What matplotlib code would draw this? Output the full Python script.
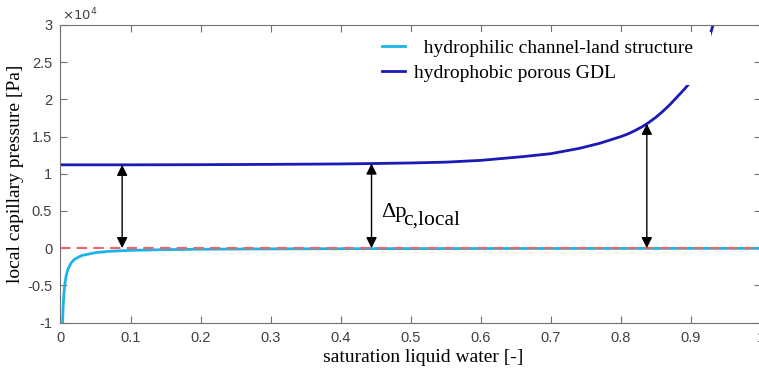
import numpy as np
import matplotlib
matplotlib.use("Agg")
import matplotlib.pyplot as plt
from matplotlib.patches import Rectangle

# saturation / pressure (Pa)
s_phil = [0.003, 0.0035, 0.004, 0.005, 0.006, 0.008, 0.01, 0.015, 0.02, 0.03,
          0.05, 0.07, 0.1, 0.15, 0.2, 0.3, 0.5, 0.7, 1.0]
p_phil = [-10000, -8600, -7500, -6000, -5000, -3750, -3000, -2000, -1500, -1000,
          -600, -430, -300, -200, -150, -100, -60, -43, -30]

s_phob = [0, 0.1, 0.2, 0.3, 0.4, 0.45, 0.5, 0.55, 0.6, 0.63, 0.66, 0.7, 0.74,
          0.77, 0.8, 0.81, 0.82, 0.83, 0.84, 0.85, 0.86, 0.87, 0.88, 0.89, 0.9,
          0.91, 0.92, 0.93, 0.94]
p_phob = [11200, 11200, 11220, 11260, 11320, 11380, 11450, 11560, 11800, 12050,
          12300, 12700, 13400, 14100, 15000, 15350, 15800, 16300, 16900, 17600,
          18400, 19300, 20300, 21300, 22400, 24200, 26400, 29500, 33000]

labels = ["  hydrophilic channel-land structure", "hydrophobic porous GDL"]
arrow_s = [0.088, 0.444, 0.837]
xticks = [0, 0.1, 0.2, 0.3, 0.4, 0.5, 0.6, 0.7, 0.8, 0.9, 1.0]
xticklabels = ["0", "0.1", "0.2", "0.3", "0.4", "0.5", "0.6", "0.7", "0.8", "0.9", "1"]
yticks = [-10000, -5000, 0, 5000, 10000, 15000, 20000, 25000, 30000]
yticklabels = ["-1", "-0.5", "0", "0.5", "1", "1.5", "2", "2.5", "3"]

serif = "Liberation Serif"
sans = "Liberation Sans"
gray = "#404040"

fig = plt.figure(figsize=(7.59, 3.71), dpi=100)
W, H = 759, 371
ax = fig.add_axes([60.5 / W, 48.5 / H, (761 - 60.5) / W, (322.5 - 25) / H])

ax.axhline(0, color="#f06464", lw=1.5, ls=(0, (5, 3)), zorder=2.5)
ax.plot(s_phil, p_phil, color="#1cb4e8", lw=2.0, label=labels[0], zorder=2)
ax.plot(s_phob, p_phob, color="#1a1ab4", lw=2.0, label=labels[1], zorder=2)

for s in arrow_s:
    top = np.interp(s, s_phob, p_phob)
    ax.annotate("", xy=(s, 0), xytext=(s, top),
                arrowprops=dict(arrowstyle="<|-|>", color="black", lw=1.0,
                                mutation_scale=16, shrinkA=0, shrinkB=0),
                zorder=4)

ax.text(0.457, 4250, "\u0394p", fontsize=16, family=serif, va="baseline", ha="left")
ax.text(0.489, 3130, "c,local", fontsize=15.5, family=serif, va="baseline", ha="left")

# white box behind legend (hides part of the curve like the original)
ax.add_patch(Rectangle((0.43, 0.80), 0.929 - 0.43, 0.977 - 0.80,
                       transform=ax.transAxes, facecolor="white",
                       edgecolor="none", zorder=3))
leg = ax.legend(loc="upper left", bbox_to_anchor=(364 / W, 1 - 22 / H),
                bbox_transform=fig.transFigure, frameon=False,
                prop=dict(family=serif, size=14), handlelength=1.2,
                handletextpad=0.45, labelspacing=0.35, borderpad=0.4)
leg.set_zorder(5)

ax.set_xlim(0, 1)
ax.set_ylim(-10000, 30000)
ax.set_xticks(xticks)
ax.set_xticklabels(xticklabels)
ax.set_yticks(yticks)
ax.set_yticklabels(yticklabels)
ax.tick_params(direction="in", length=5, width=0.8, color="#707070",
               labelcolor=gray, labelsize=10.5, top=True, right=True, pad=6)
for lab in ax.get_xticklabels() + ax.get_yticklabels():
    lab.set_family(sans)
for sp in ax.spines.values():
    sp.set_color("#707070")
    sp.set_linewidth(0.8)

ax.text(0.002, 1.0 + 1.5 / 297.5, r"$\times10^{4}$", transform=ax.transAxes,
        fontsize=9.5, color=gray, family=sans, va="bottom", ha="left")

ax.set_xlabel("saturation liquid water [-]", family=serif, fontsize=14, va="center")
ax.xaxis.set_label_coords((423 - 60.5) / 700.5, -(358 - 322.5) / 297.5)
ax.set_ylabel("local capillary pressure [Pa]", family=serif, fontsize=14, va="center")
ax.yaxis.set_label_coords(-(60.5 - 16) / 700.5, 0.5)

fig.savefig("out.png", dpi=100)
